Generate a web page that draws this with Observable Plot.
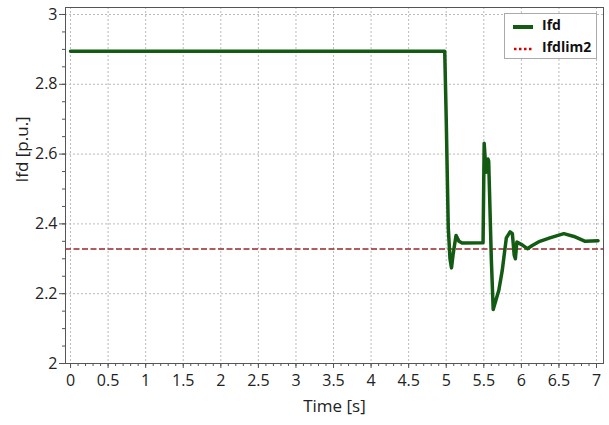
<!DOCTYPE html>
<html>
<head>
<meta charset="utf-8">
<script src="https://cdn.jsdelivr.net/npm/d3@7"></script>
<script src="https://cdn.jsdelivr.net/npm/@observablehq/plot@0.6"></script>
<style>
  html, body { margin: 0; padding: 0; background: #fff; }
  #wrap { position: relative; width: 609px; height: 425px; font-family: "Open Sans", sans-serif; }
  #legend {
    position: absolute; left: 504px; top: 13px; width: 93px; height: 46px;
    background: #fff; border: 1px solid #aaa; box-sizing: border-box;
    font-weight: bold; font-size: 14px; color: #111;
  }
  .row { position: absolute; left: 0; display: flex; align-items: center; }
  .row span { position: absolute; left: 37px; white-space: nowrap; line-height: 14px; top: -8px; }
  .swatch { position: absolute; left: 8px; width: 20px; top: -2px; }
</style>
</head>
<body>
<div id="wrap">
  <div id="chart"></div>
  <div id="legend"></div>
</div>
<script>
// Field current Ifd (p.u.) over simulation time (s)
const time = [0, 4.98, 5.0, 5.027, 5.05, 5.07, 5.09, 5.13, 5.17, 5.21, 5.49, 5.505, 5.53, 5.555, 5.565, 5.60, 5.625,
  5.70, 5.745, 5.80, 5.85, 5.88, 5.905, 5.92, 5.94, 6.01, 6.08, 6.145, 6.245, 6.38, 6.565, 6.70, 6.85, 7.02];
const ifd = [2.895, 2.895, 2.70, 2.39, 2.30, 2.274, 2.31, 2.367, 2.35, 2.345, 2.346, 2.631, 2.548, 2.586, 2.58, 2.30, 2.155,
  2.21, 2.266, 2.36, 2.377, 2.372, 2.31, 2.30, 2.348, 2.34, 2.329, 2.338, 2.35, 2.36, 2.372, 2.364, 2.35, 2.352];
// Field current limit Ifdlim2 (p.u.)
const ifdLim2 = 2.328;

const seriesNames = ["Ifd", "Ifdlim2"];
const xTicks = d3.range(0, 7.01, 0.5);
const yTicks = [2, 2.2, 2.4, 2.6, 2.8, 3];
const xMinor = d3.range(0, 71).map(i => i / 10);
const yMinor = d3.range(0, 21).map(i => 2 + i * 0.05);

const rows = time.map((t, i) => ({t, v: ifd[i]}));
const green = "#135a13";
const limColor = "#96262a";

const fmt = d => d3.format("~g")(d);

const chart = Plot.plot({
  width: 609,
  height: 425,
  marginLeft: 65,
  marginRight: 6,
  marginTop: 7,
  marginBottom: 62,
  style: {fontFamily: "Open Sans, sans-serif", fontSize: "16px", color: "#222", background: "#fff"},
  x: {domain: [-0.067, 7.093]},
  y: {domain: [2, 3.02]},
  marks: [
    Plot.gridX(xTicks, {stroke: "#bbb", strokeOpacity: 1, strokeDasharray: "2,2"}),
    Plot.gridY(yTicks, {stroke: "#bbb", strokeOpacity: 1, strokeDasharray: "2,2"}),
    Plot.axisX(xMinor, {tickSize: 3, text: null, label: null, stroke: "#555"}),
    Plot.axisY(yMinor, {tickSize: 3, text: null, label: null, stroke: "#555"}),
    Plot.axisX(xTicks, {tickSize: 5, tickPadding: 6, tickFormat: fmt, label: null, stroke: "#555", fontSize: 16}),
    Plot.axisY(yTicks, {tickSize: 6, tickPadding: 2, tickFormat: fmt, label: null, stroke: "#555", fontSize: 16}),
    Plot.ruleY([ifdLim2], {stroke: limColor, strokeWidth: 1.3, strokeDasharray: "6,2.5"}),
    Plot.line(rows, {x: "t", y: "v", stroke: green, strokeWidth: 3.5, strokeLinejoin: "round", strokeLinecap: "round"}),
    Plot.frame({stroke: "#555", strokeWidth: 1}),
    Plot.text(["Ifd [p.u.]"], {frameAnchor: "left", dx: -43, dy: -3, rotate: -90, fontSize: 17, fill: "#222"}),
    Plot.text(["Time [s]"], {frameAnchor: "bottom", dy: 48, fontSize: 17, fill: "#222"})
  ]
});
document.getElementById("chart").appendChild(chart);

// Legend
const legend = document.getElementById("legend");
const swatches = [
  `<svg class="swatch" width="20" height="6"><line x1="0" x2="20" y1="3" y2="3" stroke="${green}" stroke-width="4"/></svg>`,
  `<svg class="swatch" width="20" height="6"><line x1="1" x2="20" y1="3" y2="3" stroke="#d40000" stroke-width="2.5" stroke-dasharray="2.5,2.5"/></svg>`
];
seriesNames.forEach((name, i) => {
  const row = document.createElement("div");
  row.className = "row";
  row.style.top = (i === 0 ? 12 : 34) + "px";
  row.innerHTML = swatches[i] + `<span>${name}</span>`;
  legend.appendChild(row);
});
</script>
</body>
</html>
